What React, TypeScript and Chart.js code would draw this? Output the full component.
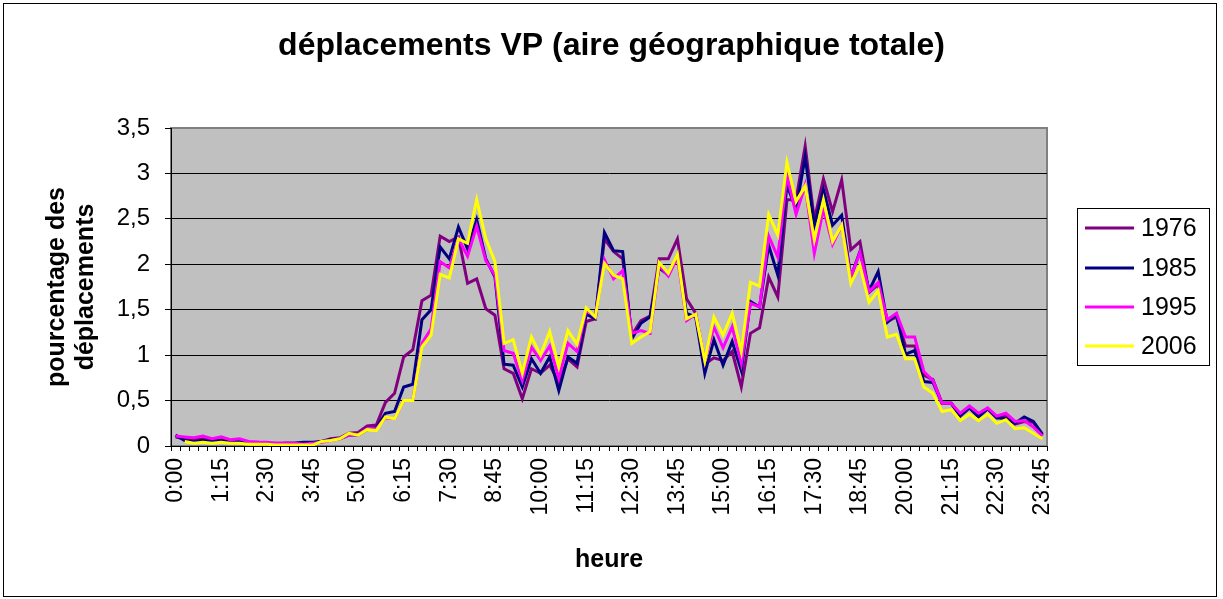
import React, { useEffect, useRef } from 'react';
import { Chart, registerables } from 'chart.js';

Chart.register(...registerables);

const FONT = "'Liberation Sans', Arial, sans-serif";

const chartTitle = 'déplacements VP (aire géographique totale)';
const yTitleLines = ['pourcentage des', 'déplacements'];
const xTitle = 'heure';

const timeLabels = [
  '0:00', '0:15', '0:30', '0:45', '1:00', '1:15', '1:30', '1:45', '2:00', '2:15', '2:30', '2:45',
  '3:00', '3:15', '3:30', '3:45', '4:00', '4:15', '4:30', '4:45', '5:00', '5:15', '5:30', '5:45',
  '6:00', '6:15', '6:30', '6:45', '7:00', '7:15', '7:30', '7:45', '8:00', '8:15', '8:30', '8:45',
  '9:00', '9:15', '9:30', '9:45', '10:00', '10:15', '10:30', '10:45', '11:00', '11:15', '11:30', '11:45',
  '12:00', '12:15', '12:30', '12:45', '13:00', '13:15', '13:30', '13:45', '14:00', '14:15', '14:30', '14:45',
  '15:00', '15:15', '15:30', '15:45', '16:00', '16:15', '16:30', '16:45', '17:00', '17:15', '17:30', '17:45',
  '18:00', '18:15', '18:30', '18:45', '19:00', '19:15', '19:30', '19:45', '20:00', '20:15', '20:30', '20:45',
  '21:00', '21:15', '21:30', '21:45', '22:00', '22:15', '22:30', '22:45', '23:00', '23:15', '23:30', '23:45',
];

const series1976 = [
  0.10, 0.08, 0.07, 0.08, 0.06, 0.07, 0.05, 0.06, 0.04, 0.04, 0.03, 0.03,
  0.03, 0.03, 0.03, 0.03, 0.05, 0.08, 0.09, 0.14, 0.15, 0.22, 0.23, 0.48,
  0.58, 0.98, 1.06, 1.60, 1.66, 2.31, 2.25, 2.30, 1.79, 1.84, 1.51, 1.44,
  0.85, 0.80, 0.52, 0.85, 0.80, 0.89, 0.70, 0.96, 0.87, 1.37, 1.40, 2.28,
  2.14, 2.06, 1.22, 1.38, 1.43, 2.06, 2.06, 2.28, 1.62, 1.46, 0.90, 0.97,
  0.94, 1.04, 0.65, 1.24, 1.30, 1.86, 1.64, 2.71, 2.71, 3.30, 2.49, 2.94,
  2.58, 2.93, 2.16, 2.25, 1.69, 1.78, 1.37, 1.42, 1.10, 1.10, 0.78, 0.73,
  0.47, 0.47, 0.34, 0.42, 0.33, 0.41, 0.31, 0.33, 0.24, 0.27, 0.26, 0.12,
];

const series1985 = [
  0.12, 0.06, 0.05, 0.06, 0.05, 0.06, 0.04, 0.05, 0.03, 0.03, 0.03, 0.02,
  0.03, 0.03, 0.04, 0.04, 0.05, 0.07, 0.08, 0.12, 0.12, 0.18, 0.20, 0.36,
  0.38, 0.65, 0.68, 1.39, 1.50, 2.19, 2.06, 2.41, 2.17, 2.49, 2.06, 1.86,
  0.90, 0.89, 0.65, 0.96, 0.80, 0.98, 0.61, 0.98, 0.91, 1.45, 1.40, 2.35,
  2.15, 2.14, 1.18, 1.35, 1.42, 1.96, 1.88, 2.10, 1.46, 1.42, 0.80, 1.17,
  0.89, 1.15, 0.83, 1.59, 1.53, 2.21, 1.88, 2.87, 2.61, 3.18, 2.43, 2.82,
  2.43, 2.54, 1.86, 2.14, 1.71, 1.92, 1.36, 1.45, 1.01, 1.05, 0.71, 0.70,
  0.47, 0.47, 0.33, 0.42, 0.32, 0.41, 0.31, 0.30, 0.25, 0.32, 0.27, 0.13,
];

const series1995 = [
  0.11, 0.10, 0.09, 0.11, 0.08, 0.10, 0.07, 0.08, 0.05, 0.04, 0.04, 0.03,
  0.03, 0.03, 0.02, 0.03, 0.04, 0.06, 0.08, 0.12, 0.12, 0.19, 0.19, 0.31,
  0.30, 0.50, 0.50, 1.13, 1.29, 2.03, 1.96, 2.28, 2.09, 2.42, 2.04, 1.88,
  1.05, 1.02, 0.72, 1.09, 0.94, 1.10, 0.75, 1.13, 1.04, 1.50, 1.42, 2.05,
  1.84, 1.93, 1.24, 1.27, 1.24, 1.99, 1.87, 2.08, 1.38, 1.45, 0.94, 1.31,
  1.08, 1.31, 0.91, 1.57, 1.53, 2.31, 2.08, 2.98, 2.55, 2.87, 2.12, 2.61,
  2.22, 2.43, 1.86, 2.13, 1.70, 1.80, 1.39, 1.46, 1.20, 1.20, 0.82, 0.72,
  0.47, 0.47, 0.36, 0.44, 0.36, 0.42, 0.33, 0.36, 0.27, 0.28, 0.21, 0.11,
];

const series2006 = [
  null, 0.05, 0.03, 0.04, 0.03, 0.04, 0.03, 0.03, 0.02, 0.02, 0.02, 0.01,
  0.01, 0.01, 0.01, 0.01, 0.05, 0.06, 0.08, 0.14, 0.12, 0.18, 0.17, 0.32,
  0.30, 0.50, 0.50, 1.09, 1.22, 1.89, 1.85, 2.28, 2.23, 2.71, 2.28, 2.03,
  1.13, 1.17, 0.80, 1.20, 1.00, 1.26, 0.87, 1.27, 1.12, 1.52, 1.42, 2.01,
  1.88, 1.84, 1.13, 1.20, 1.26, 2.02, 1.90, 2.11, 1.40, 1.45, 0.94, 1.42,
  1.22, 1.46, 1.04, 1.80, 1.76, 2.55, 2.32, 3.12, 2.69, 2.86, 2.27, 2.71,
  2.25, 2.43, 1.79, 1.99, 1.58, 1.71, 1.20, 1.23, 0.96, 0.96, 0.65, 0.58,
  0.38, 0.40, 0.28, 0.35, 0.28, 0.35, 0.25, 0.29, 0.19, 0.20, 0.14, 0.08,
];

const seriesNames = ['1976', '1985', '1995', '2006'];
const seriesColors = ['#800080', '#000080', '#FF00FF', '#FFFF00'];
const seriesValues = [series1976, series1985, series1995, series2006];

const yMin = 0;
const yMax = 3.5;
const yStep = 0.5;
const labelEvery = 5;

const decorPlugin = {
  id: 'decor',
  beforeDraw(chart: any) {
    const { ctx, chartArea: a } = chart;
    ctx.save();
    ctx.fillStyle = '#ffffff';
    ctx.fillRect(0, 0, chart.width, chart.height);
    ctx.fillStyle = '#C0C0C0';
    ctx.fillRect(a.left, a.top, a.right - a.left, a.bottom - a.top);
    ctx.strokeStyle = '#808080';
    ctx.lineWidth = 2;
    ctx.strokeRect(a.left, a.top, a.right - a.left, a.bottom - a.top);
    ctx.restore();
  },
  afterDraw(chart: any) {
    const { ctx, chartArea: a } = chart;
    ctx.save();
    ctx.fillStyle = '#000';
    ctx.font = `bold 32px ${FONT}`;
    ctx.textAlign = 'center';
    ctx.textBaseline = 'middle';
    ctx.fillText(chartTitle, 611.5, 46);
    ctx.font = `bold 25px ${FONT}`;
    ctx.fillText(xTitle, (a.left + a.right) / 2, 560);
    ctx.save();
    ctx.translate(0, (a.top + a.bottom) / 2);
    ctx.rotate(-Math.PI / 2);
    ctx.fillText(yTitleLines[0], 0, 57);
    ctx.fillText(yTitleLines[1], 0, 86);
    ctx.restore();
    const lx = 1077.5, ly = 208.5, lw = 132, lh = 157;
    ctx.fillStyle = '#fff';
    ctx.fillRect(lx, ly, lw, lh);
    ctx.strokeStyle = '#000';
    ctx.lineWidth = 1;
    ctx.strokeRect(lx, ly, lw, lh);
    const rowY = [228, 268, 307, 346];
    ctx.font = `25px ${FONT}`;
    ctx.textAlign = 'left';
    seriesNames.forEach((n, k) => {
      ctx.strokeStyle = seriesColors[k];
      ctx.lineWidth = 3;
      ctx.beginPath();
      ctx.moveTo(1085, rowY[k]);
      ctx.lineTo(1134, rowY[k]);
      ctx.stroke();
      ctx.fillStyle = '#000';
      ctx.fillText(n, 1141, rowY[k] + 1);
    });
    ctx.strokeStyle = '#000';
    ctx.lineWidth = 1;
    ctx.strokeRect(3.5, 3.5, 1213, 593);
    ctx.restore();
  },
};

export default function App() {
  const ref = useRef<HTMLCanvasElement | null>(null);
  useEffect(() => {
    if (!ref.current) return;
    const chart = new Chart(ref.current, {
      type: 'line',
      data: {
        labels: timeLabels,
        datasets: seriesNames.map((name, k) => ({
          label: name,
          data: seriesValues[k],
          borderColor: seriesColors[k],
          backgroundColor: seriesColors[k],
          borderWidth: 3,
          pointRadius: 0,
          tension: 0,
          fill: false,
          spanGaps: false,
          order: seriesNames.length - k,
        })),
      },
      options: {
        animation: false,
        responsive: false,
        maintainAspectRatio: false,
        layout: { padding: { left: 0, top: 128, right: 176, bottom: 0 } },
        plugins: {
          legend: { display: false },
          title: { display: false },
          tooltip: { enabled: false },
        },
        scales: {
          x: {
            type: 'category',
            offset: true,
            grid: {
              offset: true,
              drawOnChartArea: false,
              drawTicks: true,
              tickLength: 5,
              tickColor: '#000',
              tickWidth: 1,
            },
            border: { color: '#000', width: 1 },
            ticks: {
              autoSkip: false,
              minRotation: 90,
              maxRotation: 90,
              padding: 7,
              color: '#000',
              font: { family: FONT, size: 23 },
              callback: (_v: any, i: number) => (i % labelEvery === 0 ? timeLabels[i] : ''),
            },
            afterFit: (s: any) => {
              s.height = 153;
            },
          },
          y: {
            min: yMin,
            max: yMax,
            ticks: {
              stepSize: yStep,
              padding: 15,
              color: '#000',
              font: { family: FONT, size: 24 },
              callback: (v: any) => String(v).replace('.', ','),
            },
            grid: {
              color: (c: any) => (c.tick && c.tick.value === yMax ? 'rgba(0,0,0,0)' : '#000'),
              tickColor: '#000',
              tickLength: 6,
              lineWidth: 1,
            },
            border: { color: '#000', width: 1 },
            afterFit: (s: any) => {
              s.width = 171;
            },
          },
        },
      },
      plugins: [decorPlugin],
    } as any);
    return () => chart.destroy();
  }, []);
  return (
    <div style={{ position: 'absolute', left: 0, top: 0, width: 1223, height: 599 }}>
      <canvas ref={ref} width={1223} height={599} style={{ width: 1223, height: 599, display: 'block' }} />
    </div>
  );
}
